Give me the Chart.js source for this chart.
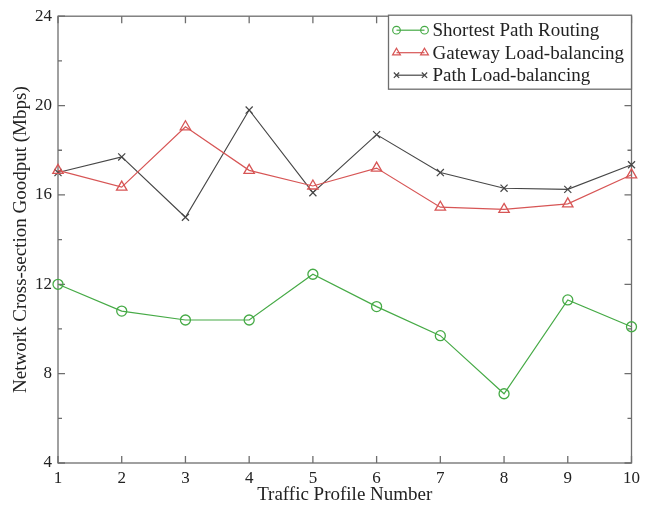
<!DOCTYPE html>
<html><head><meta charset="utf-8">
<script src="https://cdn.jsdelivr.net/npm/chart.js@4/dist/chart.umd.min.js"></script>
<style>html,body{margin:0;padding:0;background:#fff}#wrap{width:645px;height:508px}</style>
</head><body><div id="wrap"><canvas id="c" width="645" height="508"></canvas></div>
<script>
const profiles=[1,2,3,4,5,6,7,8,9,10];
const shortestPath=[12.0,10.8,10.4,10.4,12.45,11.0,9.7,7.1,11.3,10.1];
const gatewayLB=[17.1,16.35,19.05,17.1,16.4,17.2,15.45,15.35,15.6,16.9];
const pathLB=[17.0,17.7,15.0,19.8,16.1,18.7,17.0,16.3,16.25,17.35];
const yLabelTicks=[4,8,12,16,20,24];
const seriesNames=['Shortest Path Routing','Gateway Load-balancing','Path Load-balancing'];

const FONT='"Liberation Serif","Times New Roman",serif';
const GREEN='rgb(70,170,70)', RED='rgb(215,85,85)', BLACK='rgb(70,70,70)', AXIS='rgb(110,110,110)';

function pts(arr){return profiles.map((x,i)=>({x:x,y:arr[i]}));}

const frame={
  id:'frame',
  beforeDatasetsDraw(chart){
    const {ctx,chartArea:a,scales:{x,y}}=chart;
    ctx.save();
    ctx.strokeStyle=AXIS;ctx.lineWidth=1.3;
    ctx.strokeRect(a.left,a.top,a.right-a.left,a.bottom-a.top);
    ctx.beginPath();
    y.ticks.forEach(t=>{
      const py=y.getPixelForValue(t.value);
      const len=yLabelTicks.includes(t.value)?7:4;
      ctx.moveTo(a.left,py);ctx.lineTo(a.left+len,py);
      ctx.moveTo(a.right,py);ctx.lineTo(a.right-len,py);
    });
    x.ticks.forEach(t=>{
      const px=x.getPixelForValue(t.value);
      ctx.moveTo(px,a.bottom);ctx.lineTo(px,a.bottom-7);
      ctx.moveTo(px,a.top);ctx.lineTo(px,a.top+7);
    });
    ctx.stroke();
    ctx.restore();
  }
};

function drawMarker(ctx,style,cx,cy,r){
  ctx.beginPath();
  if(style==='circle'){ctx.arc(cx,cy,r,0,Math.PI*2);}
  else if(style==='triangle'){ctx.moveTo(cx,cy-r);ctx.lineTo(cx+r*0.87,cy+r*0.5);ctx.lineTo(cx-r*0.87,cy+r*0.5);ctx.closePath();}
  else {const d=r*0.7;ctx.moveTo(cx-d,cy-d);ctx.lineTo(cx+d,cy+d);ctx.moveTo(cx+d,cy-d);ctx.lineTo(cx-d,cy+d);}
  ctx.stroke();
}

const legendBox={
  id:'legendBox',
  afterDraw(chart){
    const {ctx,chartArea:a}=chart;
    const bx=a.right-243,by=a.top-1,bw=243,bh=74;
    ctx.save();
    ctx.fillStyle='#fff';ctx.fillRect(bx,by,bw,bh);
    ctx.strokeStyle=AXIS;ctx.lineWidth=1.3;ctx.strokeRect(bx,by,bw,bh);
    chart.data.datasets.forEach((ds,i)=>{
      const cy=by+15+i*22.5;
      ctx.strokeStyle=ds.borderColor;ctx.lineWidth=1.2;
      ctx.beginPath();ctx.moveTo(bx+8,cy);ctx.lineTo(bx+36,cy);ctx.stroke();
      const r=ds.pointStyle==='triangle'?4.5:3.8;
      drawMarker(ctx,ds.pointStyle,bx+8,cy,r);
      drawMarker(ctx,ds.pointStyle,bx+36,cy,r);
      ctx.fillStyle='#222';ctx.font='19px '+FONT;ctx.textBaseline='middle';ctx.textAlign='left';
      ctx.fillText(ds.label,bx+44,cy+1);
    });
    ctx.restore();
  }
};

new Chart(document.getElementById('c'),{
  type:'line',
  data:{datasets:[
    {label:seriesNames[0],data:pts(shortestPath),borderColor:GREEN,backgroundColor:'rgba(0,0,0,0)',pointStyle:'circle',pointRadius:5,pointBorderWidth:1.3,borderWidth:1.2,tension:0,clip:false},
    {label:seriesNames[1],data:pts(gatewayLB),borderColor:RED,backgroundColor:'rgba(0,0,0,0)',pointStyle:'triangle',pointRadius:6,pointBorderWidth:1.3,borderWidth:1.2,tension:0,clip:false},
    {label:seriesNames[2],data:pts(pathLB),borderColor:BLACK,backgroundColor:'rgba(0,0,0,0)',pointStyle:'crossRot',pointRadius:5,pointBorderWidth:1.2,borderWidth:1.1,tension:0,clip:false}
  ]},
  options:{
    responsive:false,devicePixelRatio:1,animation:false,
    layout:{padding:{left:8,right:12,top:14,bottom:0}},
    plugins:{legend:{display:false},tooltip:{enabled:false}},
    scales:{
      x:{type:'linear',min:1,max:10,
        ticks:{stepSize:1,autoSkip:false,padding:5,color:'#222',font:{family:FONT,size:17},maxRotation:0},
        grid:{display:false,drawTicks:false},border:{display:false},
        title:{display:true,text:'Traffic Profile Number',color:'#222',font:{family:FONT,size:19},padding:{top:0,bottom:2}},
        afterFit(s){s.height=45;}
      },
      y:{type:'linear',min:4,max:24,
        ticks:{stepSize:2,autoSkip:false,padding:6,color:'#222',font:{family:FONT,size:17},
          callback:v=>yLabelTicks.includes(v)?String(v):''},
        grid:{display:false,drawTicks:false},border:{display:false},
        title:{display:true,text:'Network Cross-section Goodput (Mbps)',color:'#222',font:{family:FONT,size:19},padding:{top:2,bottom:0}},
        afterFit(s){s.width=50;}
      }
    }
  },
  plugins:[frame,legendBox]
});
</script></body></html>
